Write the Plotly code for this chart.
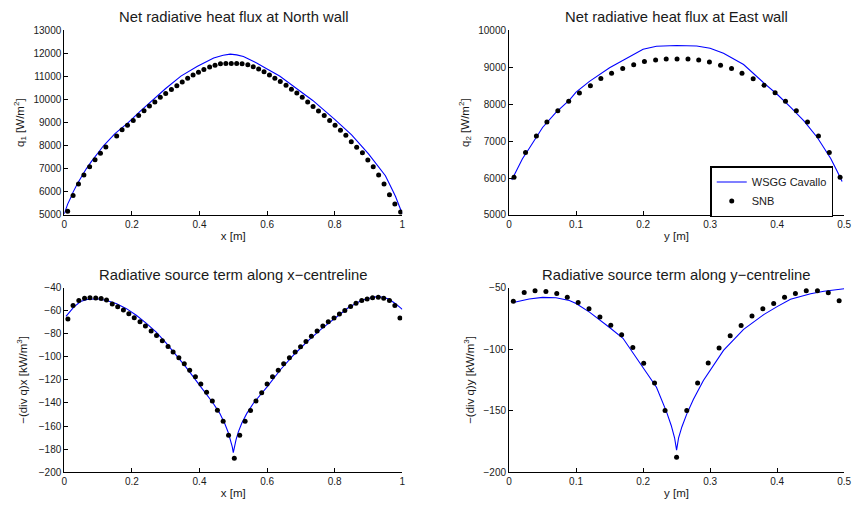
import plotly.graph_objects as go

# ---------------- data ----------------
# North wall (q1) -- SNB dots
n_snb_x = [0.010, 0.026, 0.042, 0.058, 0.075, 0.091, 0.107, 0.123, 0.155, 0.171, 0.187, 0.204,
           0.220, 0.236, 0.252, 0.268, 0.284, 0.300, 0.317, 0.333, 0.349, 0.365, 0.381, 0.397,
           0.413, 0.430, 0.446, 0.462, 0.478, 0.494, 0.510, 0.526, 0.543, 0.559, 0.575, 0.591,
           0.607, 0.623, 0.639, 0.656, 0.672, 0.688, 0.704, 0.720, 0.736, 0.752, 0.769, 0.785,
           0.801, 0.817, 0.833, 0.849, 0.865, 0.882, 0.898, 0.914, 0.930, 0.946, 0.962, 0.978, 0.995]
n_snb_q = [5157, 5847, 6340, 6734, 7086, 7396, 7678, 7945, 8424, 8691, 8889, 9100,
           9311, 9522, 9720, 9902, 10100, 10268, 10437, 10606, 10761, 10930, 11071, 11184,
           11310, 11409, 11493, 11550, 11564, 11570, 11564, 11550, 11508, 11423, 11324, 11212,
           11071, 10930, 10789, 10620, 10451, 10283, 10100, 9902, 9705, 9508, 9311, 9100,
           8889, 8677, 8452, 8171, 7931, 7692, 7382, 7086, 6734, 6340, 5875, 5480, 5129]
# North wall -- WSGG line
n_wsgg_x = [0.0, 0.005, 0.01, 0.02, 0.026, 0.04, 0.05, 0.065, 0.08, 0.1, 0.116, 0.15, 0.189,
            0.225, 0.262, 0.3, 0.345, 0.394, 0.442, 0.47, 0.491, 0.51, 0.53, 0.569, 0.6, 0.637,
            0.7, 0.735, 0.8, 0.8275, 0.85, 0.9, 0.95, 0.97, 0.98, 0.99, 1.0]
n_wsgg_q = [5050, 5280, 5470, 5780, 5990, 6390, 6640, 7000, 7310, 7700, 8000, 8530, 9000,
            9500, 10000, 10480, 11020, 11445, 11800, 11920, 11970, 11940, 11868, 11589, 11330, 11022,
            10342, 9964, 9143, 8796, 8470, 7650, 6700, 6100, 5800, 5420, 5050]

# East wall (q2) -- SNB dots
e_snb_y = [0.0074, 0.0246, 0.0408, 0.0565, 0.0728, 0.0890, 0.1050, 0.1214, 0.1370, 0.1530,
           0.1696, 0.1860, 0.2020, 0.2187, 0.2345, 0.2507, 0.2670, 0.2830, 0.2990, 0.3156,
           0.3320, 0.3476, 0.3643, 0.3805, 0.3970, 0.4125, 0.4287, 0.4454, 0.4617, 0.4779, 0.4940]
e_snb_q = [6021, 6690, 7139, 7518, 7826, 8081, 8301, 8504, 8697, 8838,
           8970, 9067, 9155, 9199, 9225, 9225, 9225, 9199, 9146, 9058,
           8970, 8838, 8688, 8512, 8310, 8081, 7826, 7518, 7139, 6690, 6021]
# East wall -- WSGG line
e_wsgg_y = [0.004, 0.01, 0.02, 0.03, 0.05, 0.07, 0.09, 0.1, 0.12, 0.15, 0.18, 0.2, 0.22, 0.25,
            0.28, 0.3, 0.32, 0.35, 0.38, 0.4, 0.42, 0.44, 0.46, 0.47, 0.48, 0.49, 0.497]
e_wsgg_q = [5950, 6171, 6523, 6800, 7370, 7780, 8110, 8330, 8620, 8988, 9290, 9489, 9569, 9590,
            9577, 9516, 9380, 9076, 8580, 8270, 7920, 7550, 7100, 6831, 6530, 6171, 5907]

# x-centreline source term -- SNB dots
sx_snb_x = [0.0107, 0.026, 0.043, 0.060, 0.076, 0.093, 0.109, 0.125, 0.142, 0.158, 0.175, 0.191,
            0.207, 0.224, 0.240, 0.257, 0.273, 0.290, 0.307, 0.322, 0.339, 0.355, 0.371, 0.388,
            0.404, 0.421, 0.438, 0.453, 0.470, 0.486, 0.503, 0.519, 0.535, 0.551, 0.567, 0.584,
            0.600, 0.616, 0.633, 0.649, 0.666, 0.683, 0.699, 0.715, 0.731, 0.748, 0.765, 0.781,
            0.798, 0.814, 0.830, 0.847, 0.863, 0.880, 0.896, 0.912, 0.929, 0.945, 0.962, 0.978, 0.993]
sx_snb_v = [-67.2, -55.6, -51.3, -49.3, -48.8, -49.1, -49.6, -50.8, -54.2, -56.7, -59.5, -62.7,
            -66.1, -69.7, -73.4, -77.7, -81.6, -86.2, -91.0, -95.8, -100.9, -106.0, -111.6, -117.3,
            -123.5, -130.6, -138.3, -146.2, -155.8, -168.0, -187.8, -168.0, -155.8, -146.5, -138.3, -131.2,
            -123.5, -117.3, -111.6, -106.0, -100.9, -95.8, -91.3, -86.7, -82.2, -77.7, -73.4, -69.7,
            -66.3, -62.9, -59.8, -56.4, -53.6, -51.3, -49.9, -48.8, -48.5, -49.3, -51.3, -55.6, -66.3]
# x-centreline -- WSGG line
sx_wsgg_x = [0.005, 0.015, 0.028, 0.048, 0.067, 0.09, 0.1, 0.126, 0.155, 0.184, 0.213, 0.243,
             0.272, 0.301, 0.33, 0.36, 0.4, 0.44, 0.46, 0.475, 0.485, 0.492, 0.497, 0.5, 0.503, 0.508,
             0.515, 0.525, 0.54, 0.56, 0.6, 0.64, 0.68, 0.72, 0.76, 0.8, 0.84, 0.88, 0.92, 0.94, 0.96,
             0.98, 1.0]
sx_wsgg_v = [-65.0, -61.0, -56.9, -52.1, -50.4, -49.9, -50.0, -51.3, -54.1, -58.3, -64.0, -71.0,
             -78.6, -87.9, -98.3, -109.0, -124.5, -140.0, -149.0, -158.0, -165.5, -172.0, -178.0, -183.0, -178.0, -172.0,
             -165.0, -157.5, -149.0, -140.0, -126.0, -111.0, -98.0, -86.5, -76.0, -66.5, -57.5, -51.0, -48.0, -48.2, -50.0,
             -54.0, -59.0]

# y-centreline source term -- SNB dots
sy_snb_y = [0.0064, 0.0226, 0.0388, 0.0550, 0.0712, 0.0869, 0.1031, 0.1193, 0.1356, 0.1518,
            0.1680, 0.1847, 0.2009, 0.2171, 0.2328, 0.2500, 0.2652, 0.2814, 0.2972, 0.3134,
            0.3300, 0.3463, 0.3625, 0.3787, 0.3949, 0.4111, 0.4273, 0.4435, 0.4602, 0.4764, 0.4926]
sy_snb_v = [-61.1, -54.0, -52.6, -53.2, -54.8, -57.9, -62.1, -67.2, -74.0, -80.6,
            -88.3, -98.6, -111.5, -127.6, -149.8, -187.9, -149.8, -127.6, -111.3, -99.1,
            -89.1, -80.9, -73.2, -67.2, -62.9, -57.9, -54.8, -52.6, -52.6, -54.2, -60.8]
# y-centreline -- WSGG line
sy_wsgg_y = [0.008, 0.02, 0.03, 0.05, 0.07, 0.09, 0.1, 0.12, 0.13, 0.15, 0.17, 0.2, 0.22, 0.235,
             0.242, 0.247, 0.25, 0.253, 0.258, 0.265, 0.275, 0.29, 0.3, 0.32, 0.35, 0.38, 0.4, 0.42,
             0.45, 0.47, 0.5]
sy_wsgg_v = [-62.0, -60.2, -59.3, -58.0, -58.3, -60.5, -63.0, -70.0, -74.0, -82.5, -91.2, -114.5, -131.0, -151.0,
             -162.0, -172.0, -182.0, -172.0, -163.0, -153.0, -141.0, -125.5, -117.0, -101.0, -84.0, -72.0, -65.5, -59.5,
             -55.0, -53.0, -51.0]

titles = ["Net radiative heat flux at North wall", "Net radiative heat flux at East wall",
          "Radiative source term along x\u2212centreline", "Radiative source term along y\u2212centreline"]
series_names = ["WSGG Cavallo", "SNB"]

# ---------------- figure ----------------
W, H = 861, 510
FONT = "Liberation Sans, Arial, Helvetica, sans-serif"
BLUE = "#0000ff"
TXT = "#1a1a1a"

fig = go.Figure()

panels = [
    (n_wsgg_x, n_wsgg_q, n_snb_x, n_snb_q, "x", "y"),
    (e_wsgg_y, e_wsgg_q, e_snb_y, e_snb_q, "x2", "y2"),
    (sx_wsgg_x, sx_wsgg_v, sx_snb_x, sx_snb_v, "x3", "y3"),
    (sy_wsgg_y, sy_wsgg_v, sy_snb_y, sy_snb_v, "x4", "y4"),
]
for i, (lx, ly, dx, dy, xa, ya) in enumerate(panels):
    fig.add_trace(go.Scatter(x=lx, y=ly, mode="lines", line=dict(color=BLUE, width=1.1),
                             name=series_names[0], showlegend=(i == 1), xaxis=xa, yaxis=ya))
    fig.add_trace(go.Scatter(x=dx, y=dy, mode="markers",
                             marker=dict(color="black", size=5, line=dict(width=0)),
                             name=series_names[1], showlegend=(i == 1), xaxis=xa, yaxis=ya))


def px_x(p):
    return p / W


def px_y(p):
    return 1 - p / H


xL = [px_x(62), px_x(404)]
xR = [px_x(512), px_x(851)]
yT = [px_y(214), px_y(25)]
yB = [px_y(477.5), px_y(288.3)]

axis_common = dict(showline=True, linecolor="black", linewidth=1, ticks="inside", ticklen=4,
                   tickcolor="black", tickwidth=1, showgrid=False, zeroline=False, mirror=False,
                   tickfont=dict(family=FONT, size=10, color=TXT), exponentformat="none",
                   separatethousands=False,
                   title_font=dict(family=FONT, size=11.5, color=TXT))

fig.update_layout(
    width=W, height=H, margin=dict(l=0, r=0, t=0, b=0),
    paper_bgcolor="white", plot_bgcolor="white",
    font=dict(family=FONT, color=TXT),
    xaxis=dict(domain=xL, range=[0, 1], dtick=0.2, anchor="y",
               title=dict(text="x [m]", standoff=2), **axis_common),
    yaxis=dict(domain=yT, range=[5000, 13000], dtick=1000, anchor="x", tickformat="d",
               title=dict(text="q<sub>1</sub> [W/m<sup>2</sup>]", standoff=6), **axis_common),
    xaxis2=dict(domain=xR, range=[0, 0.5], dtick=0.1, anchor="y2",
                title=dict(text="y [m]", standoff=2), **axis_common),
    yaxis2=dict(domain=yT, range=[5000, 10000], dtick=1000, anchor="x2", tickformat="d",
                title=dict(text="q<sub>2</sub> [W/m<sup>2</sup>]", standoff=6), **axis_common),
    xaxis3=dict(domain=xL, range=[0, 1], dtick=0.2, anchor="y3",
                title=dict(text="x [m]", standoff=2), **axis_common),
    yaxis3=dict(domain=yB, range=[-200, -40], dtick=20, anchor="x3",
                title=dict(text="\u2212(div q)x [kW/m<sup>3</sup>]", standoff=8), **axis_common),
    xaxis4=dict(domain=xR, range=[0, 0.5], dtick=0.1, anchor="y4",
                title=dict(text="y [m]", standoff=2), **axis_common),
    yaxis4=dict(domain=yB, range=[-200, -50], dtick=50, anchor="x4",
                title=dict(text="\u2212(div q)y [kW/m<sup>3</sup>]", standoff=6), **axis_common),
    legend=dict(x=px_x(840), y=px_y(190), xanchor="right", yanchor="middle",
                bgcolor="white", bordercolor="black", borderwidth=1.5,
                font=dict(family=FONT, size=11, color=TXT), itemwidth=30,
                tracegroupgap=0),
    showlegend=True,
)

title_pos = [((xL[0] + xL[1]) / 2, px_y(11.5)), ((xR[0] + xR[1]) / 2, px_y(11.5)),
             ((xL[0] + xL[1]) / 2, px_y(275)), ((xR[0] + xR[1]) / 2, px_y(275))]
for t, (tx, ty) in zip(titles, title_pos):
    fig.add_annotation(text=t, x=tx, y=ty, xref="paper", yref="paper", xanchor="center",
                       yanchor="middle", showarrow=False,
                       font=dict(family=FONT, size=14.8, color=TXT))

fig.write_html("out.html")
